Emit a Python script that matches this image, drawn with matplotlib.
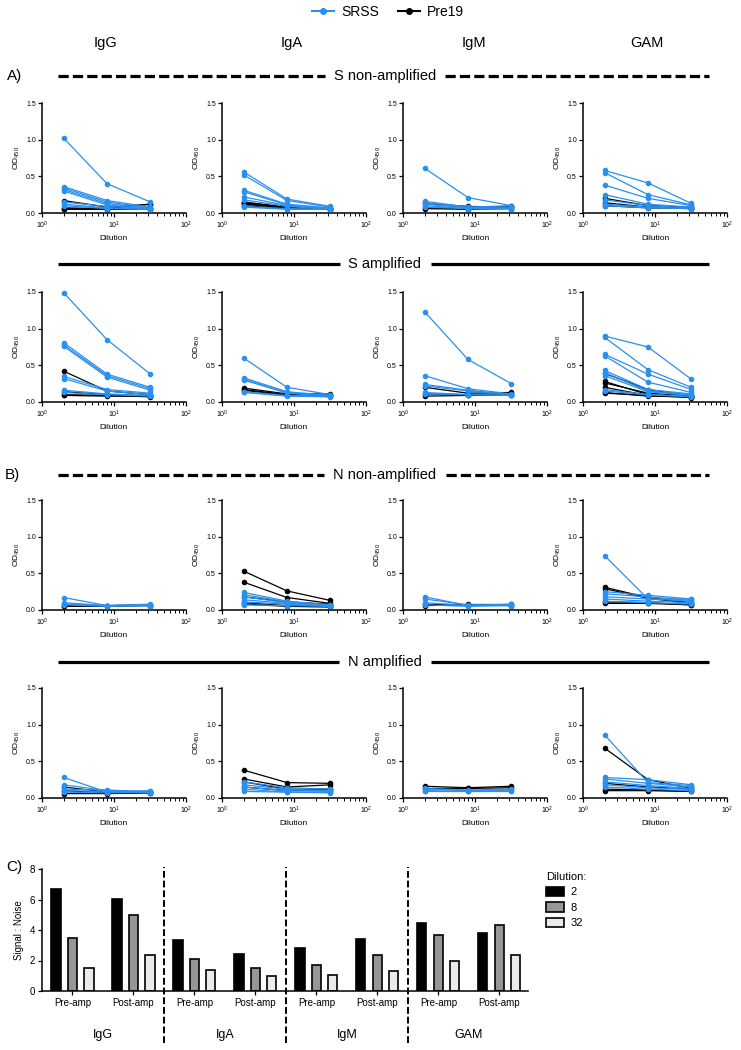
import matplotlib
matplotlib.use("Agg")
import matplotlib.pyplot as plt
from matplotlib.lines import Line2D
from matplotlib.patches import Patch
from matplotlib.ticker import LogLocator, NullFormatter, FixedLocator

plt.rcParams['font.family'] = ['Liberation Sans', 'DejaVu Sans']
plt.rcParams['mathtext.fontset'] = 'custom'
plt.rcParams['mathtext.rm'] = 'Liberation Sans'
plt.rcParams['mathtext.it'] = 'Liberation Sans'

# ---------------- data ----------------
DILUTIONS = [2, 8, 32]
ISOTYPES = ["IgG", "IgA", "IgM", "GAM"]

# each entry: list of lines (OD450 at dilution 2, 8, 32), per isotype IgG, IgA, IgM, GAM
S_NONAMP_SRSS = [
    [[1.02, 0.40, 0.15], [0.36, 0.17, 0.08], [0.34, 0.15, 0.07], [0.32, 0.13, 0.06],
     [0.30, 0.11, 0.05], [0.15, 0.09, 0.06], [0.12, 0.07, 0.05], [0.10, 0.06, 0.05]],
    [[0.56, 0.19, 0.09], [0.52, 0.17, 0.08], [0.31, 0.12, 0.07], [0.29, 0.11, 0.06],
     [0.22, 0.10, 0.06], [0.18, 0.09, 0.05], [0.09, 0.06, 0.05], [0.08, 0.05, 0.05]],
    [[0.61, 0.21, 0.10], [0.16, 0.08, 0.10], [0.14, 0.08, 0.08], [0.12, 0.07, 0.07],
     [0.10, 0.06, 0.06], [0.08, 0.06, 0.06]],
    [[0.58, 0.41, 0.13], [0.55, 0.25, 0.11], [0.38, 0.20, 0.10], [0.25, 0.12, 0.08],
     [0.18, 0.10, 0.07], [0.12, 0.08, 0.06], [0.10, 0.07, 0.06]],
]
S_NONAMP_PRE19 = [
    [[0.17, 0.08, 0.12], [0.06, 0.05, 0.05], [0.05, 0.05, 0.06], [0.07, 0.06, 0.12]],
    [[0.15, 0.08, 0.06], [0.13, 0.07, 0.05], [0.12, 0.07, 0.05], [0.10, 0.06, 0.05],
     [0.14, 0.08, 0.06]],
    [[0.13, 0.09, 0.08], [0.07, 0.06, 0.09], [0.06, 0.05, 0.06]],
    [[0.20, 0.10, 0.08], [0.10, 0.07, 0.06], [0.14, 0.08, 0.07]],
]
S_AMP_SRSS = [
    [[1.49, 0.85, 0.38], [0.81, 0.38, 0.20], [0.78, 0.36, 0.18], [0.76, 0.34, 0.16],
     [0.35, 0.17, 0.12], [0.32, 0.15, 0.10], [0.16, 0.11, 0.09], [0.13, 0.10, 0.08]],
    [[0.60, 0.20, 0.10], [0.33, 0.14, 0.09], [0.31, 0.13, 0.08], [0.30, 0.12, 0.08],
     [0.14, 0.09, 0.08], [0.13, 0.08, 0.07]],
    [[1.23, 0.58, 0.25], [0.36, 0.18, 0.11], [0.24, 0.16, 0.10], [0.22, 0.15, 0.10],
     [0.13, 0.10, 0.09], [0.11, 0.10, 0.09]],
    [[0.90, 0.75, 0.31], [0.88, 0.44, 0.20], [0.65, 0.38, 0.17], [0.63, 0.27, 0.13],
     [0.43, 0.17, 0.11], [0.40, 0.15, 0.10], [0.36, 0.14, 0.09], [0.17, 0.10, 0.08],
     [0.15, 0.10, 0.07]],
]
S_AMP_PRE19 = [
    [[0.42, 0.15, 0.10], [0.14, 0.10, 0.08], [0.10, 0.09, 0.07], [0.09, 0.08, 0.08]],
    [[0.19, 0.11, 0.11], [0.17, 0.10, 0.09], [0.16, 0.09, 0.08]],
    [[0.20, 0.12, 0.13], [0.11, 0.10, 0.11], [0.08, 0.09, 0.09]],
    [[0.39, 0.17, 0.08], [0.28, 0.10, 0.07], [0.26, 0.12, 0.08], [0.20, 0.09, 0.07],
     [0.13, 0.08, 0.07], [0.12, 0.09, 0.06]],
]
N_NONAMP_SRSS = [
    [[0.17, 0.06, 0.08], [0.10, 0.06, 0.07], [0.08, 0.06, 0.06], [0.07, 0.05, 0.06]],
    [[0.24, 0.12, 0.07], [0.21, 0.11, 0.07], [0.18, 0.10, 0.06], [0.14, 0.09, 0.06],
     [0.11, 0.08, 0.05], [0.07, 0.06, 0.05]],
    [[0.18, 0.06, 0.08], [0.15, 0.07, 0.07], [0.10, 0.06, 0.07], [0.07, 0.05, 0.06]],
    [[0.74, 0.15, 0.15], [0.25, 0.20, 0.15], [0.22, 0.18, 0.13], [0.18, 0.15, 0.12],
     [0.15, 0.12, 0.10], [0.12, 0.10, 0.08]],
]
N_NONAMP_PRE19 = [
    [[0.05, 0.05, 0.06], [0.06, 0.06, 0.07]],
    [[0.53, 0.26, 0.13], [0.38, 0.17, 0.09], [0.18, 0.11, 0.08], [0.10, 0.06, 0.05],
     [0.08, 0.05, 0.04]],
    [[0.08, 0.08, 0.08], [0.06, 0.07, 0.06]],
    [[0.31, 0.17, 0.10], [0.29, 0.16, 0.09], [0.11, 0.10, 0.07], [0.09, 0.09, 0.07]],
]
N_AMP_SRSS = [
    [[0.28, 0.08, 0.10], [0.18, 0.10, 0.09], [0.12, 0.11, 0.08], [0.10, 0.09, 0.07],
     [0.08, 0.07, 0.08]],
    [[0.22, 0.14, 0.12], [0.18, 0.12, 0.10], [0.15, 0.10, 0.09], [0.12, 0.08, 0.08],
     [0.09, 0.08, 0.07]],
    [[0.13, 0.11, 0.12], [0.10, 0.09, 0.10], [0.09, 0.09, 0.09], [0.12, 0.10, 0.11]],
    [[0.86, 0.21, 0.17], [0.28, 0.25, 0.18], [0.26, 0.20, 0.15], [0.22, 0.17, 0.13],
     [0.18, 0.14, 0.12], [0.15, 0.12, 0.10]],
]
N_AMP_PRE19 = [
    [[0.15, 0.08, 0.07], [0.10, 0.07, 0.08], [0.06, 0.06, 0.07]],
    [[0.38, 0.21, 0.20], [0.26, 0.15, 0.18], [0.22, 0.12, 0.12], [0.15, 0.10, 0.12]],
    [[0.16, 0.14, 0.16], [0.13, 0.13, 0.14]],
    [[0.68, 0.25, 0.13], [0.20, 0.15, 0.12], [0.12, 0.11, 0.09], [0.10, 0.10, 0.09]],
]

ROW_TITLES = ["S non-amplified", "S amplified", "N non-amplified", "N amplified"]
ROW_DASHED = [True, False, True, False]

# Panel C: signal to noise
BAR_CATEGORIES = ["Pre-amp", "Post-amp"] * 4
SN_DIL2 = [6.70, 6.05, 3.35, 2.45, 2.85, 3.38, 4.47, 3.82]
SN_DIL8 = [3.45, 4.98, 2.08, 1.48, 1.71, 2.35, 3.64, 4.30]
SN_DIL32 = [1.50, 2.35, 1.38, 0.97, 1.06, 1.28, 1.97, 2.39]
DIL_LABELS = ["2", "8", "32"]

# ---------------- styling ----------------
BLUE = '#2A8FEF'
BLACK = '#000000'
W, H = 741, 1050
fig = plt.figure(figsize=(W / 100, H / 100), dpi=100)


def fax(x, top, w, h):
    return fig.add_axes([x / W, 1 - (top + h) / H, w / W, h / H])


def fy(y):
    return 1 - y / H


COLS_X = [42, 222, 403, 583]
ROWS_TOP = [103, 292, 500, 688]
PW, PH = 144, 110

rows_srss = [S_NONAMP_SRSS, S_AMP_SRSS, N_NONAMP_SRSS, N_AMP_SRSS]
rows_pre = [S_NONAMP_PRE19, S_AMP_PRE19, N_NONAMP_PRE19, N_AMP_PRE19]

for r in range(4):
    for c in range(4):
        ax = fax(COLS_X[c], ROWS_TOP[r], PW, PH)
        for line in rows_pre[r][c]:
            ax.plot(DILUTIONS, line, color=BLACK, lw=0.9, marker='o', ms=3.0,
                    clip_on=False, zorder=3)
        for line in rows_srss[r][c]:
            ax.plot(DILUTIONS, line, color=BLUE, lw=0.9, marker='o', ms=3.0,
                    clip_on=False, zorder=4)
        ax.set_xscale('log')
        ax.set_xlim(1, 100)
        ax.set_ylim(0, 1.5)
        ax.set_yticks([0, 0.5, 1.0, 1.5])
        ax.set_yticklabels(["0.0", "0.5", "1.0", "1.5"])
        ax.xaxis.set_major_locator(LogLocator(base=10, numticks=5))
        ax.xaxis.set_minor_locator(LogLocator(base=10, subs=range(2, 10), numticks=20))
        ax.xaxis.set_minor_formatter(NullFormatter())
        for s in ['top', 'right']:
            ax.spines[s].set_visible(False)
        for s in ['left', 'bottom']:
            ax.spines[s].set_linewidth(1.1)
        ax.tick_params(axis='both', which='major', labelsize=5, length=3, width=0.9, pad=1.5)
        ax.tick_params(axis='x', which='minor', length=2, width=0.7)
        ax.set_ylabel("OD$_{450}$", fontsize=6, labelpad=3)
        ax.set_xlabel("Dilution", fontsize=6, labelpad=3)

# column labels
COL_LABEL_X = [106, 292, 474, 647]
for name, x in zip(ISOTYPES, COL_LABEL_X):
    fig.text(x / W, fy(43), name, fontsize=10.5, ha='center', va='center')

# section letters
fig.text(7 / W, fy(76), "A)", fontsize=11, ha='left', va='center')
fig.text(5 / W, fy(475), "B)", fontsize=11, ha='left', va='center')
fig.text(6 / W, fy(867), "C)", fontsize=11, ha='left', va='center')

# row titles with lines
TITLE_Y = [76, 264, 475, 662]
fig.canvas.draw()
renderer = fig.canvas.get_renderer()
for title, y, dashed in zip(ROW_TITLES, TITLE_Y, ROW_DASHED):
    t = fig.text(385 / W, fy(y), title, fontsize=10.5, ha='center', va='center')
    bb = t.get_window_extent(renderer=renderer)
    x_left = bb.x0 - 9
    x_right = bb.x1 + 9
    kw = dict(color='black', lw=2.3, transform=fig.transFigure, solid_capstyle='butt')
    if dashed:
        kw.update(ls=(0, (3.2, 1.3)))
    fig.add_artist(Line2D([58 / W, x_left / W], [fy(y), fy(y)], **kw))
    fig.add_artist(Line2D([x_right / W, 709 / W], [fy(y), fy(y)], **kw))

# top legend
handles = [Line2D([], [], color=BLUE, marker='o', ms=4, lw=1.5),
           Line2D([], [], color=BLACK, marker='o', ms=4, lw=1.5)]
fig.legend(handles, ["SRSS", "Pre19"], loc='center', bbox_to_anchor=(388 / W, fy(12)),
           ncol=2, frameon=False, fontsize=10, handlelength=1.6, columnspacing=1.4,
           handletextpad=0.5)

# ---------------- panel C ----------------
axb = fax(42, 869, 486, 122)
import numpy as np
x = np.arange(len(BAR_CATEGORIES))
bw = 0.15
off = 0.27
axb.bar(x - off, SN_DIL2, width=bw, color='black', edgecolor='black', lw=1.2)
axb.bar(x, SN_DIL8, width=bw, color='#969696', edgecolor='black', lw=1.2)
axb.bar(x + off, SN_DIL32, width=bw, color='#ebebeb', edgecolor='black', lw=1.2)
axb.set_xlim(-0.5, 7.47)
axb.set_ylim(0, 8)
axb.set_yticks([0, 2, 4, 6, 8])
axb.set_xticks(x)
axb.set_xticklabels(BAR_CATEGORIES)
for s in ['top', 'right']:
    axb.spines[s].set_visible(False)
for s in ['left', 'bottom']:
    axb.spines[s].set_linewidth(1.1)
axb.tick_params(axis='both', labelsize=7, length=3, width=0.9, pad=2)
axb.set_ylabel("Signal : Noise", fontsize=7, labelpad=4)
for sep in [1.5, 3.5, 5.5]:
    axb.axvline(sep, ymin=-0.43, ymax=1.02, color='black', lw=1.4,
                ls=(0, (3.5, 1.5)), clip_on=False)
for g, name in enumerate(ISOTYPES):
    axb.text(2 * g + 0.5, -0.36, name, transform=axb.get_xaxis_transform(),
             fontsize=9, ha='center', va='center')

bar_handles = [Patch(facecolor='black', edgecolor='black', lw=1.2),
               Patch(facecolor='#969696', edgecolor='black', lw=1.2),
               Patch(facecolor='#ebebeb', edgecolor='black', lw=1.2)]
fig.legend(bar_handles, DIL_LABELS, title="Dilution:", loc='upper left',
           bbox_to_anchor=(536 / W, fy(862)), frameon=False, fontsize=8,
           title_fontsize=8, alignment='left', handlelength=1.6, handleheight=0.9,
           handletextpad=0.6, labelspacing=0.45)

fig.savefig("out.png", dpi=100)
